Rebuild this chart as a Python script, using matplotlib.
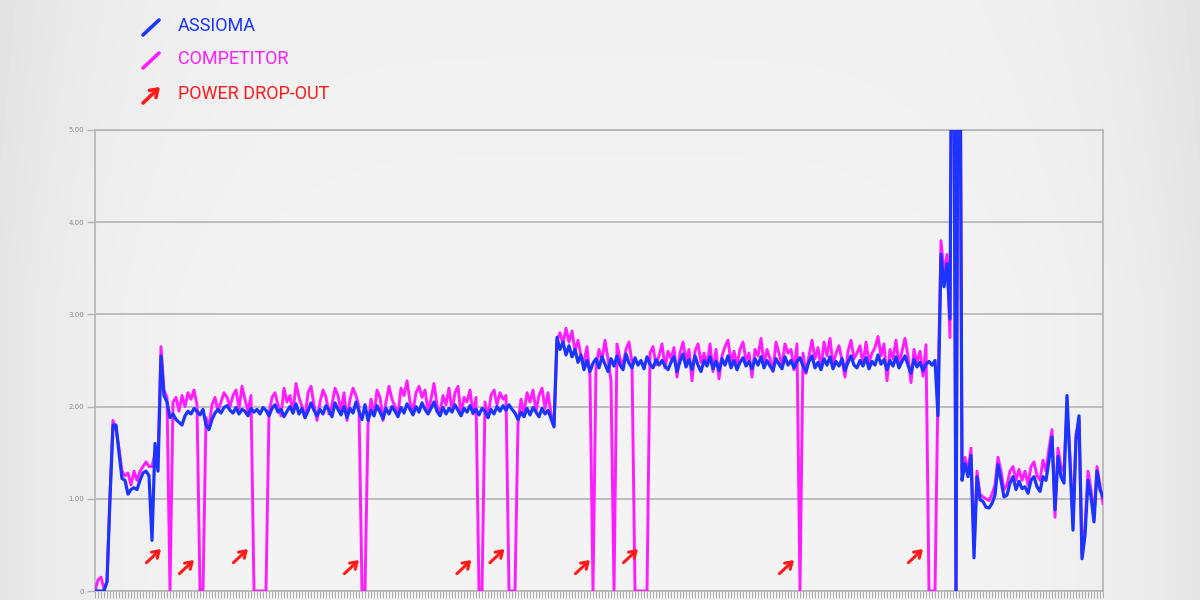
import numpy as np
import matplotlib
matplotlib.use('Agg')
import matplotlib.pyplot as plt
from matplotlib.lines import Line2D

# power readings, one sample every few seconds
# start-up ramp
assioma_ramp = [0.0, 0.0, 0.0, 0.0, 0.1, 1.0, 1.8, 1.8, 1.5, 1.22,
                1.2, 1.05, 1.1, 1.12, 1.1, 1.2, 1.28, 1.3, 1.25, 0.55,
                1.6, 1.3, 2.55, 2.12, 2.05]
competitor_ramp = [0.0, 0.12, 0.15, 0.02, 0.1, 1.05, 1.85, 1.75, 1.55, 1.3,
                   1.25, 1.28, 1.15, 1.3, 1.2, 1.3, 1.35, 1.4, 1.35, 1.35,
                   1.5, 1.45, 2.65, 2.18, 2.1]

# first steady block (~2.00)
assioma_block1 = [1.88, 1.92, 1.86, 1.83, 1.80, 1.90, 1.95, 1.92, 1.98, 1.95,
                  1.91, 1.97, 1.80, 1.75, 1.86, 1.93, 1.97, 1.93, 1.99, 2.01,
                  1.96, 1.93, 1.99, 1.92, 1.97, 1.95, 1.90, 1.98, 1.94, 1.97,
                  1.92, 1.99, 1.96, 1.90, 1.98, 2.02, 1.94, 1.97, 1.89, 1.95,
                  2.00, 1.93, 2.03, 1.92, 1.98, 1.88, 1.95, 2.04, 1.96, 1.90,
                  1.97, 1.92, 2.01, 1.96, 1.89, 2.04, 1.97, 1.91, 2.00, 1.88,
                  1.98, 1.93, 2.05, 1.95, 1.86, 2.02, 1.85, 1.96, 1.90, 2.01,
                  1.94, 1.87, 1.98, 1.92, 2.00, 1.95, 1.89, 1.99, 1.93, 2.03,
                  1.97, 1.91, 2.00, 1.94, 2.04, 1.97, 1.92, 1.98, 2.05, 1.95,
                  1.90, 1.99, 1.92, 1.98, 1.94, 2.02, 1.96, 1.90, 1.98, 1.94,
                  2.01, 1.93, 1.97, 1.91, 1.98, 1.95, 1.88, 1.97, 1.92, 2.00,
                  1.95, 2.01, 1.96, 2.02, 1.97, 1.93, 1.86, 1.94, 1.89, 1.98,
                  1.91, 1.99, 1.94, 1.89, 1.98, 1.92, 1.96, 1.87, 1.78]
competitor_block1 = [0, 2.05, 2.10, 1.95, 2.12, 2.00, 2.15, 2.08, 2.18, 2.02,
                     0, 0, 1.88, 1.78, 2.02, 2.10, 1.95, 2.05, 2.15, 2.10,
                     2.00, 2.12, 2.18, 1.98, 2.22, 2.08, 1.95, 2.12, 0, 0,
                     0, 0, 0, 1.92, 2.10, 2.15, 2.02, 1.90, 2.20, 2.05,
                     2.12, 1.93, 2.25, 2.10, 2.00, 1.88, 2.15, 2.22, 2.02, 1.85,
                     2.05, 2.18, 2.10, 1.92, 2.02, 2.20, 2.12, 1.95, 2.15, 1.85,
                     2.08, 2.20, 2.12, 2.00, 0, 0, 1.80, 2.08, 1.90, 2.18,
                     2.10, 1.85, 2.05, 2.22, 2.08, 2.00, 1.92, 2.20, 2.12, 2.28,
                     2.05, 1.95, 2.15, 2.22, 2.10, 2.18, 1.95, 2.08, 2.25, 2.02,
                     1.92, 2.12, 2.02, 2.20, 1.95, 2.15, 2.22, 1.90, 2.10, 2.05,
                     2.18, 1.92, 2.10, 0, 0, 2.05, 1.88, 2.12, 2.18, 2.02,
                     2.15, 2.08, 2.12, 0, 0, 0, 1.82, 2.08, 1.92, 2.15,
                     2.05, 2.18, 1.95, 2.12, 2.20, 1.98, 2.15, 1.92, 1.80]

# second steady block (~2.50)
assioma_block2 = [2.75, 2.62, 2.70, 2.56, 2.66, 2.54, 2.62, 2.48, 2.56, 2.40,
                  2.50, 2.38, 2.47, 2.52, 2.42, 2.54, 2.46, 2.38, 2.52, 2.44,
                  2.55, 2.45, 2.40, 2.57, 2.47, 2.42, 2.53, 2.45, 2.50, 2.41,
                  2.54, 2.46, 2.42, 2.51, 2.45, 2.50, 2.44, 2.40, 2.48, 2.54,
                  2.38, 2.49, 2.57, 2.43, 2.51, 2.40, 2.55, 2.45, 2.38, 2.50,
                  2.44, 2.54, 2.41, 2.49, 2.39, 2.52, 2.45, 2.55, 2.42, 2.50,
                  2.40, 2.48, 2.53, 2.44, 2.49, 2.41, 2.52, 2.45, 2.54, 2.42,
                  2.50, 2.44, 2.39, 2.52, 2.46, 2.41, 2.54, 2.45, 2.50, 2.42,
                  2.49, 2.53, 2.44, 2.38, 2.49, 2.55, 2.42, 2.48, 2.40, 2.52,
                  2.45, 2.54, 2.41, 2.49, 2.44, 2.52, 2.39, 2.48, 2.55, 2.45,
                  2.42, 2.50, 2.44, 2.53, 2.41, 2.49, 2.45, 2.56, 2.46, 2.51,
                  2.40, 2.50, 2.44, 2.54, 2.42, 2.49, 2.55, 2.45, 2.36, 2.51,
                  2.43, 2.48, 2.39, 2.46, 2.49, 2.45, 2.50, 1.90]
competitor_block2 = [2.72, 2.80, 2.68, 2.85, 2.70, 2.82, 2.60, 2.72, 2.55, 2.48,
                     2.65, 2.32, 0, 2.42, 2.62, 2.50, 2.72, 2.52, 2.28, 0,
                     2.68, 2.52, 2.45, 2.62, 2.70, 2.48, 0, 0, 0, 0,
                     0, 2.58, 2.65, 2.45, 2.55, 2.68, 2.42, 2.60, 2.52, 2.64,
                     2.32, 2.58, 2.70, 2.50, 2.62, 2.28, 2.60, 2.68, 2.48, 2.58,
                     2.45, 2.68, 2.38, 2.62, 2.30, 2.55, 2.65, 2.72, 2.48, 2.60,
                     2.45, 2.62, 2.70, 2.50, 2.58, 2.32, 2.62, 2.55, 2.74, 2.45,
                     2.62, 2.52, 2.38, 2.70, 2.58, 2.44, 2.68, 2.58, 2.62, 2.40,
                     2.68, 0, 2.58, 2.36, 2.55, 2.72, 2.52, 2.64, 2.42, 2.70,
                     2.55, 2.74, 2.45, 2.58, 2.66, 2.50, 2.32, 2.60, 2.72, 2.52,
                     2.58, 2.66, 2.45, 2.70, 2.48, 2.58, 2.64, 2.76, 2.55, 2.68,
                     2.28, 2.62, 2.52, 2.72, 2.45, 2.60, 2.74, 2.55, 2.26, 2.62,
                     2.48, 2.60, 2.33, 2.67, 0, 0, 0, 2.20]

# sprint spike (goes off the top of the scale)
assioma_spike = [3.65, 3.30, 3.55, 2.95, 9.0, 0.0, 9.0]
competitor_spike = [3.80, 3.45, 3.65, 2.75, 9.0, 0.0, 9.0]

# recovery
assioma_tail = [1.20, 1.38, 1.24, 1.47, 0.36, 1.24, 0.99, 0.97, 0.91, 0.90,
                0.95, 1.04, 1.37, 1.20, 1.02, 1.04, 1.17, 1.24, 1.10, 1.19,
                1.11, 1.13, 1.06, 1.20, 1.24, 1.13, 1.08, 1.24, 1.20, 1.42,
                1.67, 0.88, 1.46, 1.24, 1.17, 2.12, 1.38, 0.66, 1.64, 1.90,
                0.35, 0.60, 1.20, 1.02, 0.75, 1.30, 1.10, 1.02]
competitor_tail = [1.30, 1.45, 1.30, 1.55, 0.45, 1.30, 1.05, 1.02, 1.00, 0.98,
                   1.05, 1.15, 1.45, 1.30, 1.10, 1.15, 1.30, 1.35, 1.20, 1.32,
                   1.20, 1.30, 1.15, 1.35, 1.40, 1.25, 1.20, 1.42, 1.30, 1.55,
                   1.75, 0.80, 1.55, 1.35, 1.30, 2.00, 1.45, 0.75, 1.70, 1.85,
                   0.40, 0.70, 1.30, 1.10, 0.80, 1.35, 1.15, 0.95]

# drop-out arrows: tip position (sample, value)
arrow_idx = [22, 33, 51, 88, 125.5, 136.5, 165, 181, 233, 276]
arrow_val = [0.455, 0.336, 0.455, 0.336, 0.336, 0.455, 0.336, 0.455, 0.336, 0.455]

ytick_labels = ['0', '1.00', '2.00', '3.00', '4.00', '5.00']

assioma = assioma_ramp + assioma_block1 + assioma_block2 + assioma_spike + assioma_tail
competitor = competitor_ramp + competitor_block1 + competitor_block2 + competitor_spike + competitor_tail
assert len(assioma) == len(competitor), (len(assioma), len(competitor))
x = np.arange(len(assioma))

BLUE = '#1b34ff'
MAGENTA = '#ff1cff'
RED = '#ff1a1a'
GRID = '#b4b4b4'

fig = plt.figure(figsize=(12, 6), dpi=100)

# soft grey vignette behind everything
bg = fig.add_axes([0, 0, 1, 1], zorder=-10)
yy, xx = np.mgrid[-1:1:300j, -1:1:600j]
shade = 0.955 - 0.055 * np.abs(xx) ** 5 - 0.012 * np.clip(-yy, 0, 1)
bg.imshow(shade, cmap='gray', vmin=0, vmax=1, aspect='auto')
bg.axis('off')

ax = fig.add_axes([95 / 1200, 9 / 600, 1008 / 1200, 461 / 600])
ax.patch.set_alpha(0)

ax.plot(x, competitor, color=MAGENTA, lw=2.1, zorder=3)
ax.plot(x, assioma, color=BLUE, lw=2.3, zorder=4)

ax.set_xlim(0, len(x) - 1)
ax.set_ylim(0, 5)
ax.set_yticks(range(6))
ax.set_yticklabels(ytick_labels, fontsize=5, color='#8a8a8a')
ax.grid(axis='y', color=GRID, lw=1.2, zorder=1)
ax.set_xticks(x)
ax.set_xticklabels([])
ax.tick_params(axis='x', length=5, width=0.7, color='#aaaaaa')
ax.tick_params(axis='y', length=6, width=1.0, color=GRID, pad=2)
for s in ax.spines.values():
    s.set_color(GRID)
    s.set_linewidth(1.2)

for xi, yv in zip(arrow_idx, arrow_val):
    ax.annotate('', xy=(xi, yv), xytext=(-10.5, -9.8), textcoords='offset points',
                arrowprops=dict(arrowstyle='->,head_length=0.45,head_width=0.3',
                                color=RED, lw=2.2, shrinkA=0, shrinkB=0), zorder=5)

# legend drawn by hand at the top left
fig.add_artist(Line2D([143 / 1200, 159 / 1200], [1 - 35 / 600, 1 - 20 / 600],
                      color=BLUE, lw=2.6, solid_capstyle='round'))
fig.add_artist(Line2D([143 / 1200, 159 / 1200], [1 - 68 / 600, 1 - 53 / 600],
                      color=MAGENTA, lw=2.6, solid_capstyle='round'))
ax.annotate('', xy=(160 / 1200, 1 - 87 / 600), xytext=(143 / 1200, 1 - 103 / 600),
            xycoords='figure fraction', textcoords='figure fraction',
            arrowprops=dict(arrowstyle='->,head_length=0.5,head_width=0.35',
                            color=RED, lw=2.6, shrinkA=0, shrinkB=0),
            annotation_clip=False)

for label, col, ypix in [('ASSIOMA', BLUE, 26), ('COMPETITOR', MAGENTA, 59),
                         ('POWER DROP-OUT', RED, 94)]:
    fig.text(178 / 1200, 1 - ypix / 600, label, color=col, fontsize=13,
             family='Roboto', ha='left', va='center')

fig.savefig('out.png', dpi=100)
